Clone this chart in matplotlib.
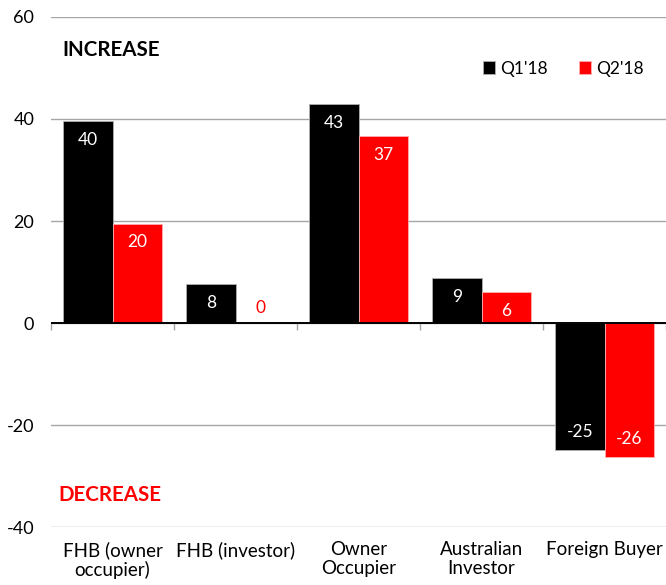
import numpy as np
import matplotlib.pyplot as plt

plt.rcParams['font.family'] = ['Lato', 'DejaVu Sans']

categories = ["FHB (owner\noccupier)", "FHB (investor)", "Owner\nOccupier",
              "Australian\nInvestor", "Foreign Buyer"]
q1 = [39.6, 7.7, 42.9, 8.8, -24.9]
q2 = [19.5, 0.0, 36.7, 6.0, -26.3]
series_names = ["Q1'18", "Q2'18"]
ymin, ymax = -40, 60

fig = plt.figure(figsize=(6.66, 5.85), dpi=100)
ax = fig.add_axes([0.0766, 0.099, 0.9234, 0.872])

x = np.arange(len(categories))
w = 0.4
b1 = ax.bar(x - w / 2, q1, w, color="black", edgecolor="#b0b0b0", linewidth=0.6,
            label=series_names[0], zorder=3)
b2 = ax.bar(x + w / 2, q2, w, color="#ff0000", edgecolor="#ffb0b0", linewidth=0.6,
            label=series_names[1], zorder=3)

for bars, vals in ((b1, q1), (b2, q2)):
    for bar, v in zip(bars, vals):
        cx = bar.get_x() + bar.get_width() / 2
        txt = f"{round(v):d}"
        if abs(v) < 1:
            ax.text(cx, v + 3, txt, ha="center", va="center", color="#ff0000",
                    fontsize=12.5, zorder=4)
        elif v > 0:
            ax.text(cx, v - 3.7, txt, ha="center", va="center", color="white",
                    fontsize=12.5, zorder=4)
        else:
            ax.text(cx, v + 3.5, txt, ha="center", va="center", color="white",
                    fontsize=12.5, zorder=4)

ax.set_ylim(ymin, ymax)
ax.set_xlim(-0.5, len(categories) - 0.5)
ax.set_yticks([-40, -20, 0, 20, 40, 60])
ax.set_yticklabels(["-40", "-20", "0", "20", "40", "60"])
ax.yaxis.grid(True, color="#a6a6a6", linewidth=1.0, zorder=0)
ax.tick_params(axis="y", length=0, labelsize=13, pad=12)
ax.set_xticks(x)
ax.set_xticklabels(categories, fontsize=13.5, linespacing=1.15)
ax.tick_params(axis="x", length=0, pad=10)
for s in ax.spines.values():
    s.set_visible(False)
ax.axhline(0, color="black", linewidth=1.4, zorder=4)

# category divider ticks on the zero line
zero_frac = (0 - ymin) / (ymax - ymin)
sec = ax.secondary_xaxis(zero_frac)
sec.set_xticks(np.arange(len(categories) + 1) - 0.5)
sec.set_xticklabels([])
sec.tick_params(axis="x", length=5, color="#a6a6a6", width=1)
sec.spines["bottom"].set_visible(False)

ax.text(-0.41, 53.5, "INCREASE", fontsize=14.8, fontweight="bold", color="black",
        ha="left", va="center")
ax.text(-0.44, -33.8, "DECREASE", fontsize=14.8, fontweight="bold", color="#ff0000",
        ha="left", va="center")

ax.legend(loc="upper right", bbox_to_anchor=(0.99, 0.945), ncol=2, frameon=False,
          handlelength=0.7, handleheight=0.7, handletextpad=0.3, columnspacing=1.8,
          fontsize=12.5)

fig.savefig("out.png", dpi=100)
